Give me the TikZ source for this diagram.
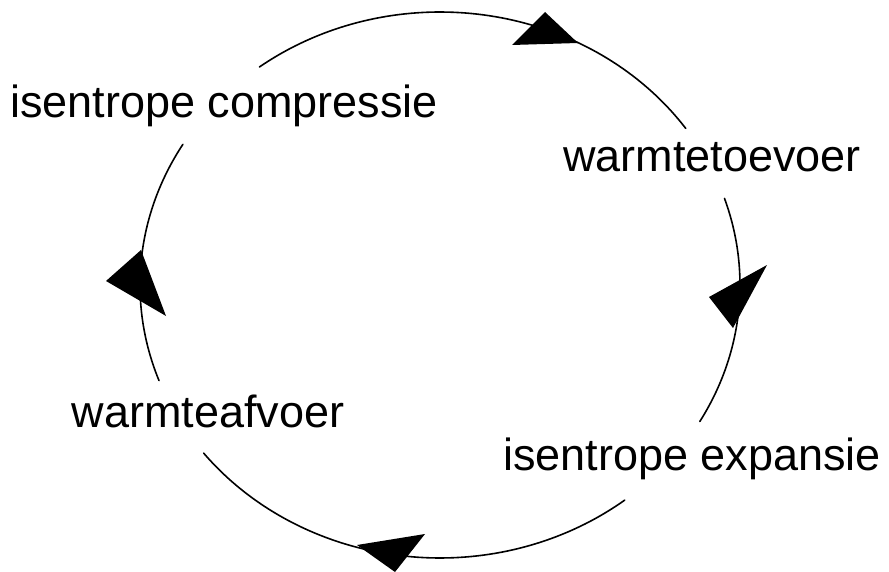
\documentclass[tikz,border=0pt]{standalone}
\usepackage{fontspec}
\setmainfont{Liberation Sans}
\begin{document}
\begin{tikzpicture}[x=1pt,y=-1pt,
  lbl/.style={inner sep=0pt, anchor=base, font=\fontsize{45}{54}\selectfont},
  arcline/.style={line width=1.6pt, line cap=round},
  tip/.style={fill=black, draw=none}]
\useasboundingbox (0,0) rectangle (889,572);
% labels
\node[lbl] (comp) at (224,118) {isentrope compressie};
\node[lbl] (toe)  at (712,172) {warmtetoevoer};
\node[lbl] (exp)  at (692,470) {isentrope expansie};
\node[lbl] (af)   at (208,427) {warmteafvoer};
% arcs of the cycle (ellipse centre 440,285; radii 300,273)
\draw[arcline] plot[domain=233:325, samples=80] ({440+300*cos(\x)},{285+273*sin(\x)});
\draw[arcline] plot[domain=-18.5:30, samples=50] ({440+300*cos(\x)},{285+273*sin(\x)});
\draw[arcline] plot[domain=52:142, samples=80] ({440+300*cos(\x)},{285+273*sin(\x)});
\draw[arcline] plot[domain=159.5:211, samples=50] ({440+300*cos(\x)},{285+273*sin(\x)});
% arrowheads
\fill[tip] (512,45) -- (545,12) -- (578,43) -- cycle;
\fill[tip] (767,265) -- (709,297) -- (733,328) -- cycle;
\fill[tip] (425,534) -- (357,545) -- (395,572) -- cycle;
\fill[tip] (141,250) -- (106,281) -- (166,316) -- cycle;
\end{tikzpicture}
\end{document}
